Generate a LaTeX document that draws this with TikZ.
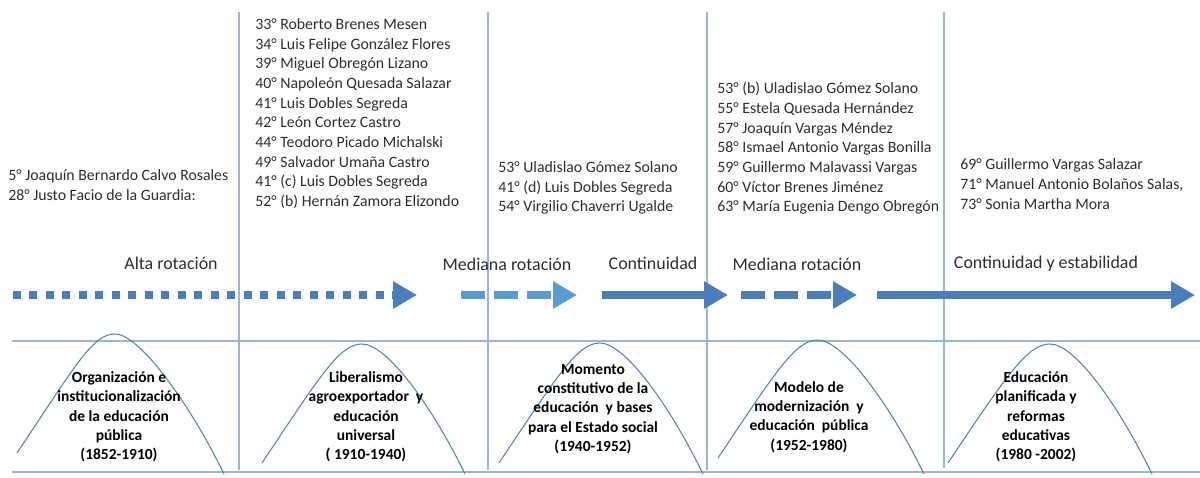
\documentclass[tikz,border=0pt]{standalone}
\usepackage{fontspec}
\setmainfont{Carlito}
\usetikzlibrary{arrows.meta}
\definecolor{lineblue}{RGB}{150,182,222}
\definecolor{arcblue}{RGB}{79,129,189}
\definecolor{arrowblue}{RGB}{74,126,187}
\definecolor{paleblue}{RGB}{91,155,213}
\definecolor{txtgray}{RGB}{45,45,45}

\begin{document}
\begin{tikzpicture}[x=0.02cm, y=-0.02cm,
    roster/.style={anchor=west, align=left, inner sep=0pt, text=txtgray, font=\fontsize{9}{11.2}\selectfont},
    stage/.style={align=center, inner sep=0pt, text=black, font=\bfseries\fontsize{8.8}{11}\selectfont},
    trend/.style={inner sep=0pt, text=txtgray, font=\fontsize{10.2}{12}\selectfont},
    divider/.style={lineblue, line width=0.6pt},
    hill/.style={arcblue, line width=0.6pt},
    flow/.style={arrowblue, line width=0.16cm, -{Triangle[length=0.48cm, width=0.52cm]}},
  ]
    \useasboundingbox (0,0) rectangle (1200,477);

    \draw[divider] (12,341) -- (1200,341) (12,472) -- (1200,472);
    \draw[divider] (239,12) -- (239,470) (488,12) -- (488,470)
    (707,12) -- (707,470) (944,12) -- (944,468);

    \node[roster] (r1) at (8,185) {5° Joaquín Bernardo Calvo Rosales\\28° Justo Facio de la Guardia:};
    \node[roster] (r2) at (255,113.5) {33° Roberto Brenes Mesen\\34° Luis Felipe González Flores\\39° Miguel Obregón Lizano\\40° Napoleón Quesada Salazar\\41° Luis Dobles Segreda\\42° León Cortez Castro\\44° Teodoro Picado Michalski\\49° Salvador Umaña Castro\\41° (c) Luis Dobles Segreda\\52° (b) Hernán Zamora Elizondo};
    \node[roster] (r3) at (498,188) {53° Uladislao Gómez Solano\\41° (d) Luis Dobles Segreda\\54° Virgilio Chaverri Ugalde};
    \node[roster] (r4) at (717,148.5) {53° (b) Uladislao Gómez Solano\\55° Estela Quesada Hernández\\57° Joaquín Vargas Méndez\\58° Ismael Antonio Vargas Bonilla\\59° Guillermo Malavassi Vargas\\60° Víctor Brenes Jiménez\\63° María Eugenia Dengo Obregón};
    \node[roster] (r5) at (960,184) {69° Guillermo Vargas Salazar\\71° Manuel Antonio Bolaños Salas,\\73° Sonia Martha Mora};

    \node[trend] (t1) at (171,263) {Alta rotación};
    \node[trend] (t2) at (507,264) {Mediana rotación};
    \node[trend] (t3) at (653,263) {Continuidad};
    \node[trend] (t4) at (797,264) {Mediana rotación};
    \node[trend] (t5) at (1046,264) {Continuidad y estabilidad};

    \coordinate (f1a) at (13,295);
    \coordinate (f1b) at (417,295);
    \coordinate (f2a) at (461,295);
    \coordinate (f2b) at (577,295);
    \coordinate (f3a) at (602,295);
    \coordinate (f3b) at (728,295);
    \coordinate (f4a) at (741,295);
    \coordinate (f4b) at (857,295);
    \coordinate (f5a) at (877,295);
    \coordinate (f5b) at (1195,295);
    \draw[flow, dash pattern=on 0.16cm off 0.17cm] (f1a) -- (f1b);
    \draw[flow, paleblue, dash pattern=on 0.48cm off 0.18cm] (f2a) -- (f2b);
    \draw[flow] (f3a) -- (f3b);
    \draw[flow, dash pattern=on 0.48cm off 0.18cm] (f4a) -- (f4b);
    \draw[flow] (f5a) -- (f5b);

    \draw[hill] (17,453) .. controls +(60,-90) and +(-22,0) .. (115,334)
    .. controls +(25,0) and +(-33,-68) .. (224,474);
    \draw[hill] (262,463) .. controls +(60,-90) and +(-22,0) .. (362,344)
    .. controls +(25,0) and +(-33,-68) .. (465,474);
    \draw[hill] (499,463) .. controls +(60,-90) and +(-22,0) .. (600,343)
    .. controls +(25,0) and +(-33,-68) .. (703,474);
    \draw[hill] (718,458) .. controls +(60,-90) and +(-22,0) .. (818,340)
    .. controls +(25,0) and +(-33,-68) .. (924,474);
    \draw[hill] (948,463) .. controls +(60,-90) and +(-22,0) .. (1050,344)
    .. controls +(25,0) and +(-33,-68) .. (1152,474);

    \node[stage] (s1) at (119,417) {Organización e\\institucionalización\\de la educación\\pública\\(1852-1910)};
    \node[stage] (s2) at (366,417) {Liberalismo\\agroexportador~ y\\educación\\universal\\( 1910-1940)};
    \node[stage] (s3) at (593,409) {Momento\\constitutivo de la\\educación~ y bases\\para el Estado social\\(1940-1952)};
    \node[stage] (s4) at (809,417) {Modelo de\\modernización~ y\\educación~ pública\\(1952-1980)};
    \node[stage] (s5) at (1036,417) {Educación\\planificada y\\reformas\\educativas\\(1980 -2002)};
\end{tikzpicture}
\end{document}
